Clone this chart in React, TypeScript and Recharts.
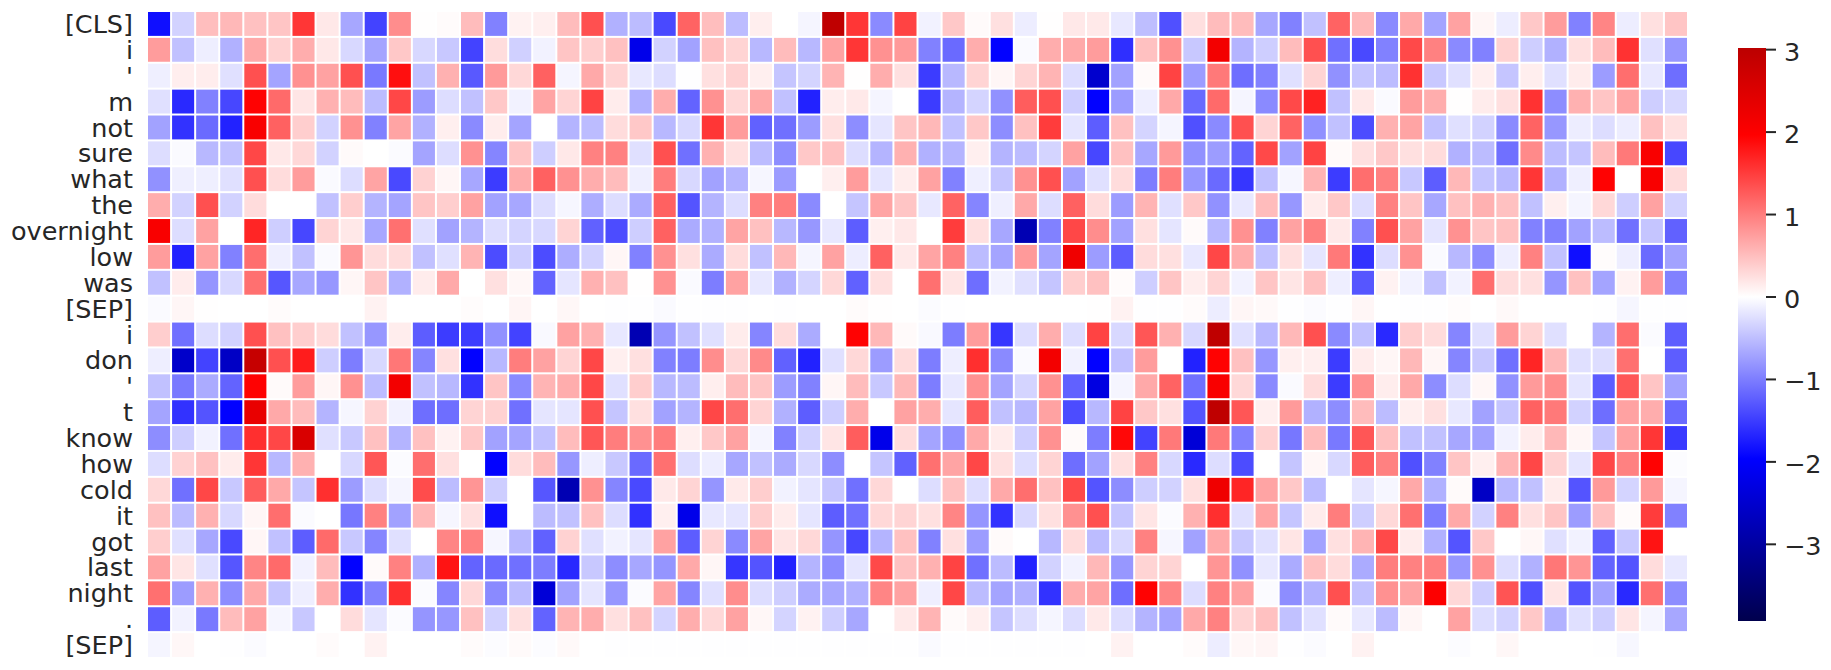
import { ScatterChart, Scatter, XAxis, YAxis, BarChart, Bar } from 'recharts';

const rowLabels = ['[CLS]', 'i', "'", 'm', 'not', 'sure', 'what', 'the', 'overnight', 'low', 'was', '[SEP]',
  'i', 'don', "'", 't', 'know', 'how', 'cold', 'it', 'got', 'last', 'night', '.', '[SEP]'];

const colorbarTicks = [-3, -2, -1, 0, 1, 2, 3];

const rowCls = [-1.85, -.35, .5, .55, .48, .45, 1.55, .18, -.68, -1.45, .88, .01, .03, .52, -.97, .1, .12, .52, 1.35,
  -.6, -.52, -1.4, 1.2, .5, -.52, .13, 0, -.08, 2.95, 1.55, -.9, 1.45, -.1, .42, .04, .24, -.14, .01, .18,
  .17, -.18, -.5, -1.35, .25, .52, .52, -.68, -.97, -.48, 1.2, .55, -.9, .66, -.7, .72, .07, -.14, .42, .76, -.97,
  .94, -.14, .24, .45];
const rowI1 = [.76, -.48, -.13, -.6, .66, .35, .63, .18, -.3, -.7, .42, -.3, -.42, -1.45, .26, -.36, -.1, .45, .38,
  .48, -2.2, -.35, -.72, .48, .33, -.55, .52, -.55, .72, 1.55, .85, .78, -.97, -1.15, .63, -1.95, -.04, .63, .66,
  .76, -1.6, .48, .85, -.42, 2.15, -.58, -.38, .52, 1.35, -1.1, -1.4, -.97, 1.4, .97, -.9, -.97, .35, -.38, -.6, .24,
  .52, 1.58, -.24, -.8];
const rowApos1 = [-.12, .13, .14, -.24, 1.35, -.7, .85, .72, 1.35, -1.03, 1.85, -.48, .6, -1.28, .78, .3, 1.22, -.08, .66,
  .33, -.18, -.26, -.01, .24, .35, .12, -.45, -.33, .58, .01, .63, .24, -1.5, -.55, .33, .07, .33, .58, -.26,
  -2.5, -.72, .04, 1.45, -.76, 1.03, -1.12, -.97, -.24, .33, -.85, -.45, -.52, 1.58, -.42, -.24, .12, -.45, .13, -.24, .15,
  -.76, 1.12, -.18, -1.12];
const rowM = [-.24, -1.65, -.97, -1.42, 1.95, 1.15, .2, .6, .52, -.52, 1.42, -.76, -.26, -.48, .42, -.1, .7, .33, 1.45,
  .15, -.6, .63, -1.2, .85, .3, .66, -.48, -1.7, .14, .17, -.08, 0, -1.5, -.58, -.33, -.85, 1.25, 1.35, -.38,
  -1.95, -.76, -.13, .66, -1.15, 1.15, -.08, -.9, 1.4, 1.7, -.48, .17, -.04, .76, .63, .01, .15, .24, 1.58, -.88, .6,
  .45, .7, -.38, -.3];
const rowNot = [-.72, -1.58, -1.15, -1.7, 2.05, 1.22, .38, -.35, .85, -.97, .7, -.6, .12, -.9, .14, -.7, 0, -.58, -.52,
  .27, .42, -.55, -.3, 1.55, .76, -1.22, -1.1, -.76, .24, -.88, -.2, .45, .55, -.48, .42, -.88, .48, 1.5, -.2,
  -1.25, .48, -.33, -.08, -1.35, -.9, 1.35, .33, 1.2, -.85, -.48, -1.38, .6, .7, -.48, -.24, -.35, -.9, 1.2, -.8, -.14,
  -.26, -.14, .48, .24];
const rowSure = [-.26, -.04, -.55, -.48, 1.42, .18, .3, -.35, .04, 0, -.03, -.7, -.26, .85, -.94, .45, -.38, .18, .97,
  .97, -.24, 1.35, -1.1, .6, .24, -.52, -.88, .42, .48, -.26, -.58, .6, -.6, -.58, .12, -.58, -.52, -.33, .72,
  -1.42, .48, -.68, .78, -.85, -.76, -1.2, 1.4, -.72, 1.45, .04, .24, .42, .24, .27, -.6, -.52, -1.1, .9, -.52, -.45,
  .52, 1.03, 2.05, -1.42];
const rowWhat = [-.85, -.12, -.12, -.24, 1.35, .27, .76, -.04, -.26, .7, -1.4, .35, .07, -.68, -1.5, .63, 1.22, .85, .63,
  .52, -.12, 1, -.3, -.72, -.58, -.07, -.76, 0, .12, .76, -.2, .14, .72, -.97, -.12, -.45, .85, 1.35, -.72,
  -.24, .27, -1, 1, -.8, -1.15, -1.55, -.48, -.07, .58, -1.5, 1.12, .97, -.42, -1.25, .55, -.45, -.55, 1.55, -.6, -.12,
  1.95, 0, 2.05, .27];
const rowThe = [.63, -.35, 1.35, -.35, .27, 0, 0, -.48, .38, -.58, -.7, .45, .38, .72, -.72, -.68, -.26, -.07, -.63,
  -.26, -.65, 1.22, -1.32, -.58, -.26, .97, 1, -.9, 0, -.45, .7, .45, -.18, 1.2, -.94, -.12, .66, -.26, 1.22,
  .27, -.76, .58, -.24, .42, -.85, -.18, .52, -.8, .15, .42, -.26, .97, .45, -.68, .48, .6, .48, -.48, .12, -.08,
  .3, -.38, .72, -.35];
const rowOvernight = [2.05, -.26, .72, 0, 1.68, -.38, -1.42, .33, .18, -.68, 1.1, -.24, -.72, -.58, -.26, -.33, -.3, .33, -1.22,
  -1.38, -.38, 1.22, -.65, -.6, .7, .48, -.55, -.8, -.18, -1.25, .12, .18, 0, 1.5, .24, -.68, -2.8, -.97, 1.42,
  .88, -.72, .24, -.2, .04, -.55, .85, -.97, .72, .97, .17, -.97, 1.35, .72, -.2, .85, .45, .48, -.97, -.97, -.72,
  -.52, -1.1, -.45, -1.22];
const rowLow = [.76, -1.7, .72, -.97, 1.12, -.12, -.48, -.04, .82, .27, .27, -.48, -.24, .58, -1.38, -.38, -1.38, -.63, -.35,
  .07, -.97, .85, .24, -.65, .27, -.48, .55, -.08, .72, -.14, 1.22, .17, .7, .97, -.52, -.7, .78, -.7, 2.2,
  -.76, -1.25, .27, .24, -.18, 1.42, .63, -.48, .24, -.2, 1.03, -1.58, -.26, .85, -.04, -.55, -.88, -.13, .97, -.48, -1.85,
  .02, -.13, -1.15, -.72];
const rowWas = [-.48, .15, -.82, -.3, 1.1, -1.3, -.68, -.8, .07, .45, -.6, .15, .66, 0, .24, .06, -1.2, -.2, .6,
  .48, .01, .85, -.04, -1, .72, -.18, -.6, -.33, .3, -1.22, .24, 0, 1.1, .2, -1.12, -.1, -.24, -.45, .38,
  .48, .03, -.38, .45, .14, .33, -.1, .45, .2, .48, -.13, -1.3, .1, -.1, -.48, -.1, 1.12, .27, .24, -.82, .48,
  -.7, .1, .76, -.97];
const rowSep1 = [-.04, .07, .01, 0, 0, .03, 0, 0, 0, .1, 0, 0, 0, .02, 0, .08, 0, .06, 0,
  -.01, -.01, -.04, -.01, -.01, -.01, 0, -.01, 0, 0, .03, .01, 0, -.03, -.01, 0, 0, 0, 0, 0,
  .01, .1, -.01, -.01, .03, -.14, .07, .05, -.01, -.03, -.01, .07, 0, -.01, -.01, .02, 0, .05, 0, 0, 0,
  -.01, -.07, -.01, -.01];
const rowI2 = [.38, -1.1, -.26, -.35, 1.35, .48, .38, .27, -.48, -.8, .14, -1.25, -1.5, -1.5, -.85, -1.45, -.05, .72, .6,
  -.18, -2.8, -.82, -.48, -.24, .15, -.94, .27, -.65, 0, 1.95, .55, .04, -.05, -1, .76, -1.55, -.26, .63, -.26,
  1.45, -.3, 1.3, .6, -.3, 2.95, -.24, -.55, .55, 1.35, -.9, -.48, -1.65, .38, .27, -.94, -.24, .76, .33, -.24, 0,
  -.58, 1.12, -.03, -1.25];
const rowDon = [-.13, -2.55, -1.45, -2.6, 2.85, 1.35, 1.75, -.38, -1, -.3, 1.05, -.94, .24, -1.95, -.55, 1, .72, .33, 1.42,
  .12, .24, -.97, -1, .88, .3, .9, -1.22, -1.7, -.24, .3, -.76, .27, -1, -.13, 1.6, -.9, -.04, 2.15, -.1,
  -1.95, -.48, .76, 0, -1.7, 1.95, .48, -.8, .12, .12, -1.5, .15, .07, .55, .07, -.94, -.42, -1.1, 1.68, .55, -.24,
  -.26, 1.1, 0, -1.25];
const rowApos2 = [-.48, -1.03, -.65, -1.2, 1.95, .04, .76, .07, .85, -.52, 2.15, -.48, -.55, -1.58, .45, -.9, .58, .63, 1.42,
  -.24, .38, -.55, -.52, .13, .52, .45, -.76, -.97, .07, .52, -.42, .55, -1, -.18, .85, -.7, -.33, .85, -1.22,
  -2.3, -.08, .66, 1.2, -1.1, 2.05, .3, -.9, -.04, .27, -1.5, .85, .14, .66, -.88, -.26, .06, -.85, .78, .88, -.2,
  -1.25, 1.3, .45, -.72];
const rowT = [-.7, -1.58, -1.32, -1.95, 2.3, .66, .52, -.58, -.07, .35, -.1, -1.12, -1.12, .33, .35, -1.1, -.2, -.2, 1.35,
  -.45, .24, -.72, -.58, 1.42, 1.12, .33, -.6, -1.25, -.38, .63, 0, .72, .63, -.2, 1.25, -.48, -.55, .72, -1.38,
  -.55, 1.45, .42, .24, -1.32, 2.95, 1.3, .12, .78, -.6, -.88, .52, -.52, .12, .24, -.18, -.72, -.45, 1.22, 1.03, -.35,
  -1.12, .72, .63, -1.15];
const rowKnow = [-.88, -.38, -.1, -1.1, 1.6, 1.42, 2.55, -.24, -.42, .48, -.58, .48, .1, .42, -.72, -.7, -.48, .52, 1.3,
  1, .85, 1, .12, .42, .72, -.08, -.97, -.35, .2, 1.25, -2.2, .27, -.7, -.85, .66, .15, -.38, .85, .04,
  -1, 1.9, -1.45, 1.03, -2.4, 1.03, -.97, .35, -1.05, .52, -1.03, 1.3, .48, -.48, -.48, -.68, -.72, -.1, .15, .55, .07,
  -.45, .72, 1.55, -1.52];
const rowHow = [-.26, .35, .48, .15, 1.55, -.55, .6, 0, -.3, 1.3, -.03, 1.12, .24, 0, -1.95, .27, .52, -.8, -.13,
  -.42, -1.15, 1.1, -.26, -.14, -.68, -.48, -.65, -.3, -.88, 0, -.45, -1.22, 1.1, .7, 1.42, .24, -.26, .33, -1.12,
  -.72, .24, .97, -.3, -1.65, -.26, -1.38, 0, -.45, .06, -.3, 1.25, .97, -1.35, -.97, .45, .12, .58, 1.42, .35, -.2,
  1.42, .97, 1.95, -.02];
const rowCold = [.3, -1.1, 1.42, -.42, 1.25, .66, -.45, 1.6, -.76, -.26, -.08, 1.38, -.52, .82, -.38, 0, -1.3, -2.8, .85,
  -.94, -1.4, .17, .33, -.82, .16, .38, -.1, -.2, -.45, -1.1, .3, 0, -.26, .48, -.26, .66, 1.12, .48, 1.4,
  -1.32, -.88, -.38, -.35, .24, 2.2, 1.68, .7, .42, -.52, 0, -.2, -.07, .66, -.6, .04, -2.6, -.55, -.48, .15, -1.32,
  .78, -.33, .78, -.08];
const rowIt = [.48, -.52, .6, -.3, .07, 1.12, -.03, 0, -1.05, .97, -.72, .55, -.07, .24, -1.85, 0, -.52, -.48, .48,
  -.26, -1.58, .12, -2.2, -.18, -.2, .38, .15, -.2, -1.25, -1.1, .3, .33, .24, .94, -.82, -1.58, -.3, .24, .85,
  1.35, -.45, .2, -.03, .6, 1.6, -.24, .7, -.45, .15, 1, -.38, .3, 1.1, -1, .66, -.35, .97, .24, .45, -.76,
  .48, .03, 1.5, -.97];
const rowGot = [.38, -.24, -.68, -1.4, .07, -.48, -1.25, 1.15, -.42, -.94, -.24, 0, .94, .97, -.07, -.55, -1.22, .35, -.24,
  -.1, -.2, .72, -1.25, .33, -.9, .7, .2, .3, -.82, -1.42, -.58, .48, -.97, .24, -.76, .04, 0, -.55, .27,
  -.52, -.3, .97, -.07, -.72, .66, -.42, -.24, .2, -.72, .24, .58, 1.4, .15, -.6, -1.32, .42, 0, .06, -.24, -.1,
  -1.22, -.42, 1.82, 0];
const rowLast = [.72, .2, -.24, -1.3, .94, 1.15, -.1, .52, -1.95, .04, .97, -.6, 1.82, -1.2, -1.15, -1.1, -1, -1.65, -.42,
  -.88, -.68, -.82, .66, .07, -1.55, -1.32, -1.7, -.58, -.88, -.2, 1.4, .48, .6, 1.45, -1.1, -.52, -1.7, -.35, -.1,
  .55, -.8, .33, .33, 0, .82, -.85, -.18, -.65, .48, .27, -.65, 1, .97, .97, -.8, .85, -.26, -.6, 1.05, .82,
  -1.2, -1.32, .27, -.18];
const rowNight = [1.1, -.76, .6, -.88, .66, -.45, -.13, .63, -1.58, -.97, 1.6, -.03, -.94, .3, -.9, -.52, -2.4, -.72, -.2,
  -.8, -.03, .7, -.94, -.24, .88, -.26, -.38, -.65, -.68, -.6, .94, .72, -.12, 1.42, -.52, -.7, -.6, -1.58, .63,
  .7, -1.12, 1.95, .94, -.26, .97, .72, -.03, -.88, -.6, 1.35, -.48, .85, .7, 2, .3, -.38, 1.32, -1.35, .2, -1.32,
  -.72, -1.65, 1.1, -.88];
const rowDot = [-1.25, -.1, -1.03, .52, .72, -.07, -.42, 0, .27, -.2, -.03, -.82, -.8, .48, -.35, .24, -1.2, .58, .63,
  .24, .48, -.33, .63, .3, .72, .06, -.33, .1, -.38, -.68, 0, .17, .58, .04, .12, -.45, -.26, -.08, -.26,
  .17, -.26, -.58, -.7, .66, .97, .33, .48, -.48, -.24, .04, -.18, -.52, .07, 0, .72, -.26, -.35, .42, -.6, -.24,
  -.38, .2, -.08, -.68];
const rowSep2 = [-.08, .06, 0, -.01, -.03, 0, 0, .03, 0, .1, 0, 0, 0, .03, -.02, .04, -.02, .05, 0,
  -.01, -.01, -.01, -.01, -.01, -.01, -.01, -.01, -.01, -.01, -.01, -.01, -.01, -.04, -.01, -.01, -.01, -.01, -.01, -.01,
  0, .1, 0, 0, .03, -.14, .06, .08, -.01, -.03, 0, .1, 0, 0, 0, -.02, 0, .06, 0, 0, 0,
  -.01, -.06, 0, 0];

const rows = [rowCls, rowI1, rowApos1, rowM, rowNot, rowSure, rowWhat, rowThe, rowOvernight, rowLow, rowWas, rowSep1,
  rowI2, rowDon, rowApos2, rowT, rowKnow, rowHow, rowCold, rowIt, rowGot, rowLast, rowNight, rowDot, rowSep2];

const VRANGE = 3.93;
const VMAX = 3.02;
const PLOT_LEFT = 147;
const PLOT_TOP = 11;
const PLOT_W = 1541;
const PLOT_H = 647;
const nCols = 64;
const cellW = PLOT_W / nCols;
const cellH = PLOT_H / rows.length;

// same stops as matplotlib's seismic
function seismic(v: number) {
  const t = Math.max(0, Math.min(1, (v + VRANGE) / (2 * VRANGE)));
  let r = 0, g = 0, b = 0;
  if (t < 0.25) {
    b = 0.3 + (0.7 * t) / 0.25;
  } else if (t < 0.5) {
    r = g = (t - 0.25) / 0.25;
    b = 1;
  } else if (t < 0.75) {
    r = 1;
    g = b = 1 - (t - 0.5) / 0.25;
  } else {
    r = 1 - (0.5 * (t - 0.75)) / 0.25;
  }
  return `rgb(${Math.round(r * 255)},${Math.round(g * 255)},${Math.round(b * 255)})`;
}

const cells = rows.flatMap((row, y) => row.map((value, x) => ({ x: x + 0.5, y: y + 0.5, value })));
const rowTicks = rowLabels.map((_, i) => i + 0.5);

function HeatCell(props: any) {
  const { cx, cy, payload } = props;
  return (
    <rect x={cx - cellW / 2 + 1} y={cy - cellH / 2 + 1} width={cellW - 2} height={cellH - 2} fill={seismic(payload.value)} />
  );
}

const gradientStops = [VMAX, VRANGE / 2, 0, -VRANGE / 2, -VRANGE];

function Colorbar() {
  return (
    <BarChart width={100} height={613} data={[{ name: 'scale' }]} barCategoryGap={0} margin={{ top: 20, right: 0, bottom: 20, left: 0 }}>
      <defs>
        <linearGradient id="seismicBar" x1="0" y1="0" x2="0" y2="1">
          {gradientStops.map((v) => (
            <stop key={v} offset={(VMAX - v) / (VMAX + VRANGE)} stopColor={seismic(v)} />
          ))}
        </linearGradient>
      </defs>
      <XAxis dataKey="name" hide />
      <YAxis
        orientation="right"
        width={72}
        type="number"
        domain={[-VRANGE, VMAX]}
        ticks={colorbarTicks}
        interval={0}
        axisLine={false}
        tickSize={10}
        tickMargin={8}
        tickLine={{ stroke: '#262626', strokeWidth: 2 }}
        tick={{ fill: '#262626', fontSize: 25.5, fontFamily: 'DejaVu Sans', dy: 2 }}
        tickFormatter={(v: number) => String(v).replace('-', '\u2212')}
      />
      <Bar dataKey={() => [-VRANGE, VMAX]} fill="url(#seismicBar)" isAnimationActive={false} />
    </BarChart>
  );
}

export default function App() {
  return (
    <div style={{ position: 'absolute', left: 0, top: 0, width: 1831, height: 670 }}>
      <ScatterChart width={1831} height={670} margin={{ top: PLOT_TOP, right: 1831 - PLOT_LEFT - PLOT_W, bottom: 670 - PLOT_TOP - PLOT_H, left: 0 }}>
        <XAxis type="number" dataKey="x" domain={[0, nCols]} hide />
        <YAxis
          type="number"
          dataKey="y"
          width={PLOT_LEFT}
          domain={[0, rows.length]}
          reversed
          ticks={rowTicks}
          interval={0}
          axisLine={false}
          tickLine={false}
          tickSize={0}
          tickMargin={14}
          tick={{ fill: '#262626', fontSize: 25.5, fontFamily: 'DejaVu Sans' }}
          tickFormatter={(v: number) => rowLabels[Math.floor(v)]}
        />
        <Scatter data={cells} shape={HeatCell} isAnimationActive={false} />
      </ScatterChart>
      <div style={{ position: 'absolute', left: 1738, top: 28 }}>
        <Colorbar />
      </div>
    </div>
  );
}
